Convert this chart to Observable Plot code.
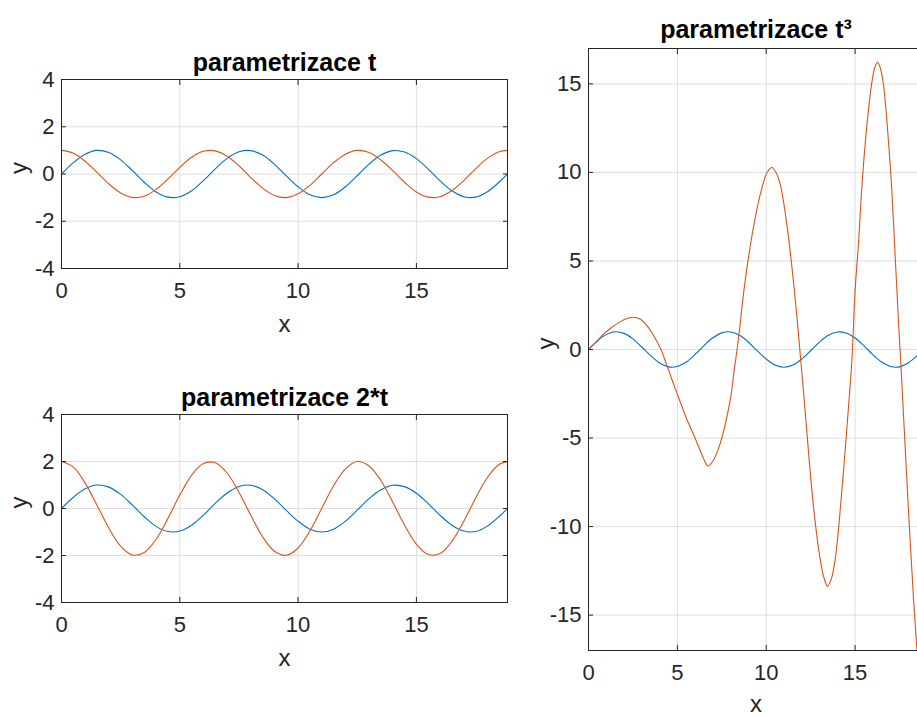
<!DOCTYPE html>
<html><head><meta charset="utf-8">
<script src="https://cdn.jsdelivr.net/npm/d3@7"></script>
<script src="https://cdn.jsdelivr.net/npm/@observablehq/plot@0.6"></script>
<style>
html,body{margin:0;padding:0;background:#fff;overflow:hidden;}
#fig{position:relative;width:917px;height:716px;overflow:hidden;background:#fff;}
#fig svg{position:absolute;left:0;top:0;}
</style></head><body><div id="fig"></div>
<script>
// shared x samples (0 .. 6π)
const xVals = [0,0.5,1,1.5,2,2.5,3,3.5,4,4.5,5,5.5,6,6.5,7,7.5,8,8.5,9,9.5,10,10.5,11,11.5,12,12.5,13,13.5,14,14.5,15,15.5,16,16.5,17,17.5,18,18.5,18.85];
// blue series (same in all panels)
const blueVals = [0,0.48,0.84,1.0,0.91,0.6,0.14,-0.35,-0.76,-0.98,-0.96,-0.71,-0.28,0.22,0.66,0.94,0.99,0.8,0.41,-0.08,-0.54,-0.88,-1.0,-0.88,-0.54,-0.07,0.42,0.8,0.99,0.93,0.65,0.21,-0.29,-0.71,-0.96,-0.98,-0.75,-0.34,0];
// orange series, panel "parametrizace t"
const orangeT = [1,0.88,0.54,0.07,-0.42,-0.8,-0.99,-0.94,-0.65,-0.21,0.28,0.71,0.96,0.98,0.75,0.35,-0.15,-0.6,-0.91,-1.0,-0.84,-0.48,0,0.48,0.84,1.0,0.91,0.59,0.14,-0.35,-0.76,-0.98,-0.96,-0.7,-0.28,0.22,0.66,0.94,1];
// orange series, panel "parametrizace 2*t"
const orange2T = [2,1.76,1.08,0.14,-0.83,-1.6,-1.98,-1.87,-1.31,-0.42,0.57,1.42,1.92,1.95,1.51,0.69,-0.29,-1.2,-1.82,-1.99,-1.68,-0.95,0.01,0.97,1.69,2.0,1.81,1.19,0.27,-0.71,-1.52,-1.96,-1.92,-1.4,-0.55,0.44,1.32,1.88,2];
// orange series, panel "parametrizace t^3"
const t3X = [0,0.4,0.84,1.3,1.78,2.2,2.53,2.9,3.3,3.7,4.08,4.41,4.97,5.54,6.1,6.45,6.72,7.0,7.41,7.97,8.2,8.42,8.72,9.0,9.38,9.76,10.05,10.32,10.55,10.79,11.16,11.45,11.73,11.91,12.1,12.66,13.04,13.25,13.45,13.65,13.88,14.26,14.63,14.82,15.0,15.2,15.39,15.67,15.95,16.1,16.26,16.42,16.6,16.88,17.07,17.26,17.45,17.58,17.73,18.0,18.29,18.48,18.6];
const t3Y = [0,0.4,0.86,1.24,1.56,1.76,1.82,1.72,1.33,0.72,0,-0.9,-2.45,-3.95,-5.25,-6.1,-6.58,-6.3,-5.3,-2.87,-1.15,0.45,3.13,5.19,7.44,9.13,10.0,10.28,10.0,9.32,7.07,4.63,1.82,-0.24,-2.4,-8.87,-11.87,-12.9,-13.37,-13.0,-11.87,-7.93,-3.24,-0.62,3.3,6.13,9.32,12.7,15.13,15.9,16.22,15.9,14.94,11.75,8.94,5.19,1.44,-0.9,-3.8,-9.0,-14.1,-16.95,-18.6];

const xTicks = [0,5,10,15];
const yTicksSmall = [-4,-2,0,2,4];
const yTicksBig = [-15,-10,-5,0,5,10,15];
const titles = ["parametrizace t", "parametrizace 2*t", "parametrizace t\u00b3"];
const xDomain = [0, 18.85];
const blue = "#0072BD", orange = "#D95319";

const zip = (xs, ys) => xs.map((x, i) => ({x, y: ys[i]}));

function panel({left, top, right, bottom, yDomain, yTicks, series, title, titleDy, xLabelDy}) {
  const W = 930, H = 716;
  const fmt = d => String(d);
  return Plot.plot({
    width: W, height: H,
    marginLeft: left, marginRight: W - right, marginTop: top, marginBottom: H - bottom,
    style: "max-width:none;background:transparent;overflow:visible;font-family:'Liberation Sans',Arial,Helvetica,sans-serif;color:#262626;",
    x: {domain: xDomain},
    y: {domain: yDomain},
    marks: [
      Plot.gridX({ticks: xTicks, stroke: "#dedede", strokeOpacity: 1}),
      Plot.gridY({ticks: yTicks, stroke: "#dedede", strokeOpacity: 1}),
      ...series.map(s => Plot.line(s.data, {x: "x", y: "y", stroke: s.color, strokeWidth: 1.1, curve: "catmull-rom", clip: true})),
      Plot.frame({stroke: "#262626", strokeWidth: 1}),
      Plot.axisX({ticks: xTicks, anchor: "bottom", tickSize: 5, dy: -5, tickPadding: 14, fontSize: 22, tickFormat: fmt, label: null}),
      Plot.axisX({ticks: xTicks, anchor: "top", tickSize: 5, dy: 5, tickFormat: () => "", label: null}),
      Plot.axisY({ticks: yTicks, anchor: "left", tickSize: 5, dx: 5, tickPadding: 7, fontSize: 22, tickFormat: fmt, label: null}),
      Plot.axisY({ticks: yTicks, anchor: "right", tickSize: 5, dx: -5, tickFormat: () => "", label: null}),
      Plot.text([title], {text: d => d, frameAnchor: "top", lineAnchor: "middle", dy: titleDy, fontSize: 25, fontWeight: "bold", fill: "#000"}),
      Plot.text(["x"], {text: d => d, frameAnchor: "bottom", lineAnchor: "middle", dy: xLabelDy, fontSize: 24, fill: "#262626"}),
      Plot.text(["y"], {text: d => d, frameAnchor: "left", lineAnchor: "middle", dx: -42, rotate: -90, fontSize: 24, fill: "#262626"})
    ]
  });
}

const fig = document.getElementById("fig");
fig.appendChild(panel({
  left: 61, top: 79, right: 507, bottom: 268, yDomain: [-4, 4], yTicks: yTicksSmall, title: titles[0], titleDy: -17, xLabelDy: 56,
  series: [{data: zip(xVals, blueVals), color: blue}, {data: zip(xVals, orangeT), color: orange}]
}));
fig.appendChild(panel({
  left: 61, top: 414, right: 507, bottom: 602, yDomain: [-4, 4], yTicks: yTicksSmall, title: titles[1], titleDy: -17, xLabelDy: 56,
  series: [{data: zip(xVals, blueVals), color: blue}, {data: zip(xVals, orange2T), color: orange}]
}));
fig.appendChild(panel({
  left: 588, top: 48, right: 923, bottom: 650, yDomain: [-17, 17], yTicks: yTicksBig, title: titles[2], titleDy: -19, xLabelDy: 54,
  series: [{data: zip(xVals, blueVals), color: blue}, {data: zip(t3X, t3Y), color: orange}]
}));
</script></body></html>
